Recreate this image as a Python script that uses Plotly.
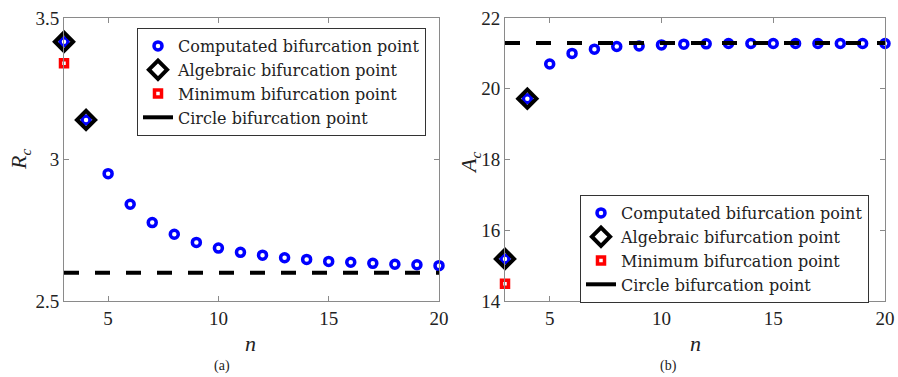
import plotly.graph_objects as go

n_vals = list(range(3, 21))
Rc_computed = [3.416, 3.140, 2.950, 2.842, 2.777, 2.736, 2.707, 2.687, 2.672, 2.662,
               2.653, 2.647, 2.640, 2.637, 2.633, 2.630, 2.628, 2.625]
Ac_computed = [15.19, 19.72, 20.70, 21.00, 21.12, 21.195, 21.21, 21.24, 21.26, 21.27,
               21.28, 21.28, 21.28, 21.28, 21.28, 21.28, 21.28, 21.28]
alg_n = [3, 4]
Rc_algebraic = [3.416, 3.140]
Ac_algebraic = [15.19, 19.72]
min_n = [3]
Rc_minimum = [3.34]
Ac_minimum = [14.49]
Rc_circle = 2.60
Ac_circle = 21.29

names = ["Computated bifurcation point", "Algebraic bifurcation point",
         "Minimum bifurcation point", "Circle bifurcation point"]

SERIF = "Liberation Serif"
LEGFONT = "DejaVu Serif"
BLUE = "#0000ff"
RED = "#ff0000"
FRAME = "#8a8a8a"

fig = go.Figure()

def add_panel(xa, ya, leg, comp, alg, mn, circ):
    fig.add_trace(go.Scatter(x=n_vals, y=comp, mode="markers", name=names[0], cliponaxis=False,
        marker=dict(symbol="circle-open", size=8, color=BLUE, line=dict(width=3.5, color=BLUE)),
        xaxis=xa, yaxis=ya, legend=leg))
    fig.add_trace(go.Scatter(x=alg_n, y=alg, mode="markers", name=names[1], cliponaxis=False,
        marker=dict(symbol="diamond-open", size=14, color="black", line=dict(width=4, color="black")),
        xaxis=xa, yaxis=ya, legend=leg))
    fig.add_trace(go.Scatter(x=min_n, y=mn, mode="markers", name=names[2], cliponaxis=False,
        marker=dict(symbol="square-open", size=7, color=RED, line=dict(width=3.5, color=RED)),
        xaxis=xa, yaxis=ya, legend=leg))
    fig.add_trace(go.Scatter(x=[n_vals[0], n_vals[-1]], y=[circ, circ], mode="lines",
        line=dict(color="black", width=4, dash="15px,16px"), showlegend=False,
        xaxis=xa, yaxis=ya, legend=leg))
    fig.add_trace(go.Scatter(x=[None], y=[None], mode="lines", name=names[3],
        line=dict(color="black", width=4), xaxis=xa, yaxis=ya, legend=leg))

add_panel("x", "y", "legend", Rc_computed, Rc_algebraic, Rc_minimum, Rc_circle)
add_panel("x2", "y2", "legend2", Ac_computed, Ac_algebraic, Ac_minimum, Ac_circle)

W, H = 898, 377
top = 1 - 18 / H
bot = 1 - 301 / H

axis_common = dict(showline=True, linecolor=FRAME, linewidth=1, mirror="ticks",
                   ticks="inside", ticklen=5, tickcolor=FRAME, showgrid=False,
                   zeroline=False, tickfont=dict(family=SERIF, size=19, color="#222"),
                   automargin=False)

legend_common = dict(xanchor="left", yanchor="top", bordercolor="#333", borderwidth=1,
                     bgcolor="white", font=dict(family=LEGFONT, size=16, color="#222"),
                     tracegroupgap=0)

fig.update_layout(
    width=W, height=H, margin=dict(l=0, r=0, t=0, b=0),
    paper_bgcolor="white", plot_bgcolor="white",
    xaxis=dict(domain=[64 / W, 439 / W], range=[3, 20], tickvals=[5, 10, 15, 20], anchor="y", **axis_common),
    yaxis=dict(domain=[bot, top], range=[2.5, 3.5], tickvals=[2.5, 3, 3.5], anchor="x", **axis_common),
    xaxis2=dict(domain=[505 / W, 885 / W], range=[3, 20], tickvals=[5, 10, 15, 20], anchor="y2", **axis_common),
    yaxis2=dict(domain=[bot, top], range=[14, 22], tickvals=[14, 16, 18, 20, 22], anchor="x2", **axis_common),
    legend=dict(x=137 / W, y=1 - 28 / H, **legend_common),
    legend2=dict(x=580 / W, y=1 - 195 / H, **legend_common),
    showlegend=True,
)

annots = [
    dict(text="<i>n</i>", x=251 / W, y=1 - 343 / H, font=dict(size=22)),
    dict(text="<i>n</i>", x=695 / W, y=1 - 343 / H, font=dict(size=22)),
    dict(text="(a)", x=222 / W, y=1 - 366 / H, font=dict(size=14)),
    dict(text="(b)", x=668 / W, y=1 - 366 / H, font=dict(size=14)),
    dict(text="<i>R<sub>c</sub></i>", x=20 / W, y=1 - 160 / H, textangle=-90, font=dict(size=22)),
    dict(text="<i>A<sub>c</sub></i>", x=470 / W, y=1 - 163 / H, textangle=-90, font=dict(size=22)),
]
for a in annots:
    f = a.pop("font")
    fig.add_annotation(xref="paper", yref="paper", showarrow=False, xanchor="center", yanchor="middle",
                       font=dict(family=SERIF, color="#222", **f), **a)

fig.write_html("out.html")
